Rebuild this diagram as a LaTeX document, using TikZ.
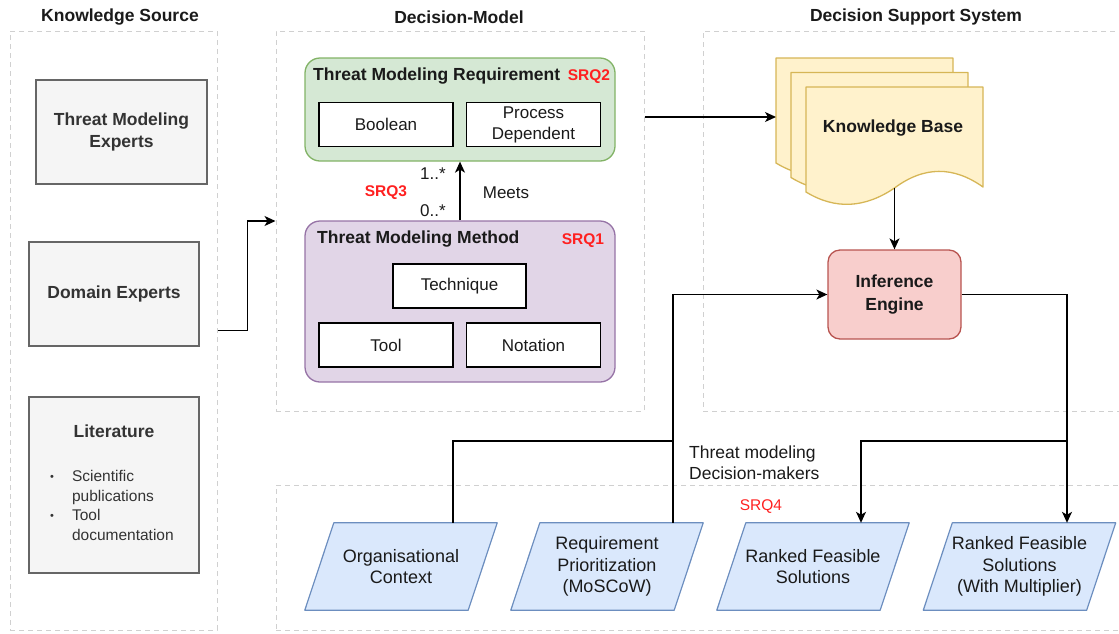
\documentclass[tikz,border=0pt]{standalone}
\usepackage{fontspec}
\setmainfont{Liberation Sans}
\usetikzlibrary{arrows.meta,backgrounds,calc}
\definecolor{grayfill}{HTML}{F5F5F5}
\definecolor{grayline}{HTML}{666666}
\definecolor{graytext}{HTML}{333333}
\definecolor{greenfill}{HTML}{D5E8D4}
\definecolor{greenline}{HTML}{82B366}
\definecolor{purplefill}{HTML}{E1D5E7}
\definecolor{purpleline}{HTML}{9673A6}
\definecolor{yellowfill}{HTML}{FFF2CC}
\definecolor{yellowline}{HTML}{D6B656}
\definecolor{redfill}{HTML}{F8CECC}
\definecolor{redline}{HTML}{B85450}
\definecolor{bluefill}{HTML}{DAE8FC}
\definecolor{blueline}{HTML}{6C8EBF}
\definecolor{dashgray}{HTML}{D0D0D0}
\definecolor{srqred}{HTML}{FF2020}
\definecolor{textdark}{HTML}{1A1A1A}
\newcommand{\kbsheet}[1]{%
  \begin{scope}[shift={(#1)}]
    \filldraw[fill=yellowfill,draw=yellowline,line width=1.3pt,line join=round]
      (806,87) -- (983,87) -- (983,187)
      .. controls (953.5,166) and (924,166) .. (894.5,188)
      .. controls (865,208) and (835.5,210) .. (806,192) -- cycle;
  \end{scope}}
\begin{document}
\begin{tikzpicture}[x=1pt,y=-1pt,
  font=\fontsize{17}{21}\selectfont, text=textdark,
  container/.style={draw=dashgray,line width=1pt,dash pattern=on 5pt off 4pt,inner sep=0pt},
  title/.style={font=\fontsize{17.5}{21}\selectfont\bfseries},
  graybox/.style={draw=grayline,fill=grayfill,line width=1.5pt,inner sep=0pt,text=graytext,
    font=\fontsize{17.5}{22}\selectfont\bfseries,align=center},
  colbox/.style={rounded corners=15pt,line width=1.3pt,inner sep=0pt},
  innerbox/.style={draw=black,fill=white,line width=1.6pt,inner sep=0pt,align=center,
    minimum width=134pt,minimum height=44pt,font=\fontsize{17}{21}\selectfont},
  srq/.style={text=srqred,font=\fontsize{15.5}{18}\selectfont\bfseries},
  paranode/.style={inner sep=0pt,minimum width=163pt,minimum height=87pt,align=center,
    font=\fontsize{18}{21.5}\selectfont},
  parashape/.style={fill=bluefill,draw=blueline,line width=1.2pt,line join=round},
  line/.style={draw=black,line width=1.3pt},
  conn/.style={line,-{Stealth[length=11pt,width=10pt,inset=3pt]}},
  lbl/.style={font=\fontsize{17}{21}\selectfont}
]
\useasboundingbox (0,0) rectangle (1119,633);

% containers
\node[container,minimum width=207pt,minimum height=599pt] (ks) at (113.5,330.5) {};
\node[container,minimum width=368pt,minimum height=380pt] (dm) at (460,221) {};
\node[container,minimum width=421pt,minimum height=380pt] (dss) at (913.5,221) {};
\node[container,minimum width=848pt,minimum height=145pt] (dmk) at (700,557.5) {};

% container titles
\node[title] (tks) at (120,17) {Knowledge Source};
\node[title] (tdm) at (459,17) {Decision-Model};
\node[title] (tdss) at (916,17) {Decision Support System};

% knowledge sources
\node[graybox,minimum width=171pt,minimum height=104pt] (tme) at (121.5,132) {Threat Modeling\\Experts};
\node[graybox,minimum width=170pt,minimum height=104pt] (de) at (114,294) {Domain Experts};
\node[graybox,minimum width=170pt,minimum height=176pt] (lit) at (114,485) {};
\node[text=graytext,font=\fontsize{17.5}{21}\selectfont\bfseries] (littitle) at (114,431) {Literature};
\node[anchor=west,inner sep=0pt,text=graytext,font=\fontsize{15.5}{19.5}\selectfont] (litlist) at (50,507)
  {\begin{tabular}{@{}l@{\hspace{18pt}}l@{}}
   {\fontsize{11}{11}\selectfont\raisebox{1pt}{•}} & Scientific\\
   & publications\\
   {\fontsize{11}{11}\selectfont\raisebox{1pt}{•}} & Tool\\
   & documentation
   \end{tabular}};

% decision model
\node[colbox,draw=greenline,fill=greenfill,minimum width=310pt,minimum height=103pt] (req) at (460,109.5) {};
\node[anchor=west,inner sep=0pt,font=\fontsize{17.5}{21}\selectfont\bfseries] (reqt) at (313,76) {Threat Modeling Requirement};
\node[srq] (srq2) at (589,77) {SRQ2};
\node[innerbox] (bool) at (386,124.5) {Boolean};
\node[innerbox] (proc) at (533.5,124.5) {Process\\Dependent};

\node[colbox,draw=purpleline,fill=purplefill,minimum width=310pt,minimum height=161pt] (meth) at (460,301.5) {};
\node[anchor=west,inner sep=0pt,font=\fontsize{17.5}{21}\selectfont\bfseries] (metht) at (317,239) {Threat Modeling Method};
\node[srq] (srq1) at (583,241) {SRQ1};
\node[innerbox,minimum width=133pt] (tech) at (459.5,286) {Technique};
\node[innerbox] (tool) at (386,345) {Tool};
\node[innerbox] (nota) at (533.5,345) {Notation};

\draw[conn] (meth.north) -- (req.south);
\node[lbl] (m1) at (433,174) {1..*};
\node[lbl] (m0) at (433,211) {0..*};
\node[srq] (srq3) at (386,193) {SRQ3};
\node[lbl] (meets) at (506,193) {Meets};

% knowledge base stack
\kbsheet{-30,-29}
\kbsheet{-15,-14.5}
\kbsheet{0,0}
\node[font=\fontsize{17.5}{21}\selectfont\bfseries] (kb) at (893,128) {Knowledge Base};
\coordinate (kbin) at (776,117);
\coordinate (kbbot) at (894.5,188);

\node[colbox,rounded corners=12pt,draw=redline,fill=redfill,minimum width=133pt,minimum height=89pt,
  align=center,font=\fontsize{17.5}{23}\selectfont\bfseries] (ie) at (894.5,294.5) {Inference\\Engine};

% decision makers
\node[paranode] (org) at (401,566.5) {Organisational\\Context};
\node[paranode] (reqp) at (607,566.5) {Requirement\\Prioritization\\(MoSCoW)};
\node[paranode] (rank) at (813,566.5) {Ranked Feasible\\Solutions};
\node[paranode] (mult) at (1019.5,566.5) {Ranked Feasible\\Solutions\\(With Multiplier)};
\begin{scope}[on background layer]
  \foreach \p in {org,reqp,rank,mult}{
    \filldraw[parashape] ([xshift=-14.5pt]\p.south west) -- ([xshift=-14.5pt]\p.south east)
      -- ([xshift=14.5pt]\p.north east) -- ([xshift=14.5pt]\p.north west) -- cycle;
  }
\end{scope}
\node[anchor=west,align=left,inner sep=0pt,font=\fontsize{17.5}{21}\selectfont] (tdmk) at (689,462.5) {Threat modeling\\Decision-makers};
\node[text=srqred,font=\fontsize{15.5}{18}\selectfont] (srq4) at (761,507) {SRQ4};

% connectors
\draw[conn] (ks.east) -- ++(30,0) |- (dm.west);
\draw[conn] (dm.east |- kbin) -- (kbin);
\draw[conn] (kbbot) -- (ie.north);
\coordinate (jn) at (673,441);
\coordinate (jn2) at (1067,441);
\draw[line] ([xshift=52pt]org.north) |- (jn);
\draw[conn] ([xshift=66pt]reqp.north) |- (ie.west);
\draw[conn] (ie.east) -| ([xshift=47.5pt]mult.north);
\draw[conn] (jn2) -| ([xshift=48pt]rank.north);
\end{tikzpicture}
\end{document}
